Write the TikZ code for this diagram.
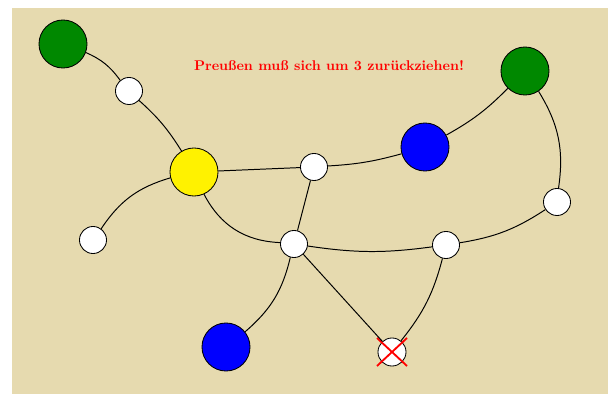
\documentclass[tikz,border=0pt]{standalone}
\usetikzlibrary{calc}
\definecolor{bg}{RGB}{230,218,175}
\definecolor{dgreen}{RGB}{0,136,0}
\begin{document}
\begin{tikzpicture}[x=0.025cm,y=-0.025cm,
  big/.style={circle,draw=black,line width=0.6pt,minimum size=1.2cm,inner sep=0pt},
  small/.style={circle,draw=black,fill=white,line width=0.6pt,minimum size=0.675cm,inner sep=0pt},
  edge/.style={draw=black,line width=0.7pt},
  cross/.style={draw=red,line width=1.3pt}]
\useasboundingbox (0,0) rectangle (608,394);
\fill[bg] (12,8) rectangle (608,394);
\node[big,fill=dgreen] (g1) at (63,44) {};
\node[small] (a) at (129,91) {};
\node[big,fill=yellow] (y) at (194,172) {};
\node[small] (b) at (314,167) {};
\node[big,fill=blue] (bl1) at (425,147) {};
\node[big,fill=dgreen] (g2) at (525,71) {};
\node[small] (c) at (557,202) {};
\node[small] (d) at (93,240) {};
\node[small] (e) at (294,244) {};
\node[small] (f) at (446,245) {};
\node[big,fill=blue] (bl2) at (226,347) {};
\node[small,minimum size=0.7cm] (x) at (392,352) {};
\draw[cross] ($(x)+(-15,-14)$) -- ($(x)+(15,14)$);
\draw[cross] ($(x)+(15,-14)$) -- ($(x)+(-15,14)$);
\node[text=red,font=\bfseries\fontsize{10}{12}\selectfont] (t) at (329,66) {Preußen muß sich um 3 zurückziehen!};
\path[edge] (g1) to[bend left=15] (a);
\path[edge] (a) to[bend left=8] (y);
\path[edge] (y) to[bend right=20] (d);
\path[edge] (y) -- (b);
\path[edge] (y) to[bend right=30] (e);
\path[edge] (b) to[bend right=6] (bl1);
\path[edge] (b) -- (e);
\path[edge] (bl1) to[bend right=8] (g2);
\path[edge] (g2) to[bend left=20] (c);
\path[edge] (c) to[bend left=12] (f);
\path[edge] (e) to[bend right=8] (f);
\path[edge] (e) to[bend left=18] (bl2);
\path[edge] (e) -- (x);
\path[edge] (f) to[bend left=12] (x);
\end{tikzpicture}
\end{document}
